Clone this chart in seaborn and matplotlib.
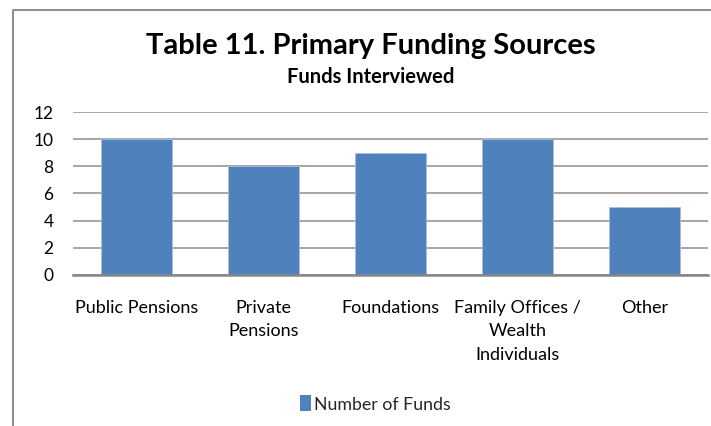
import matplotlib
matplotlib.use("Agg")
import matplotlib.pyplot as plt
from matplotlib.lines import Line2D
from matplotlib.patches import Patch
import pandas as pd
import seaborn as sns

# Chart data
categories = ["Public Pensions", "Private\nPensions", "Foundations",
              "Family Offices /\nWealth\nIndividuals", "Other"]
num_funds = [10, 8, 9, 10, 5]
series_name = "Number of Funds"
y_ticks = [0, 2, 4, 6, 8, 10, 12]

title = "Table 11. Primary Funding Sources"
subtitle = "Funds Interviewed"

BAR = "#4F81BD"
GRID = "#A6A6A6"
AXIS = "#868686"
FRAME = "#8C8C8C"

sns.set_theme(style="white")
plt.rcParams["font.family"] = ["Lato", "DejaVu Sans"]

df = pd.DataFrame({"source": categories, "funds": num_funds})

fig = plt.figure(figsize=(7.11, 4.26), dpi=100)
ax = fig.add_axes([0.1027, 0.3552, 0.8931, 0.3812])

sns.barplot(data=df, x="source", y="funds", color=BAR, saturation=1,
            width=0.56, edgecolor="#A7BFDE", linewidth=0.6, ax=ax, zorder=3)

ax.set_ylim(0, 12)
ax.set_yticks(y_ticks)
ax.set_xlim(-0.5, len(categories) - 0.5)
ax.set_xlabel("")
ax.set_ylabel("")

ax.yaxis.grid(True, color=GRID, linewidth=1.4, zorder=0)
ax.xaxis.grid(False)
for side in ["left", "right", "top"]:
    ax.spines[side].set_visible(False)
ax.spines["bottom"].set_color(AXIS)
ax.spines["bottom"].set_linewidth(1.8)
ax.spines["bottom"].set_zorder(4)

ax.tick_params(axis="y", length=0, pad=14, labelsize=12.5, labelcolor="black")
ax.tick_params(axis="x", length=0, pad=18, labelsize=13, labelcolor="black")
for lbl in ax.get_xticklabels():
    lbl.set_linespacing(1.6)

fig.text(0.522, 1 - 54 / 426, title, ha="center", va="baseline",
         fontsize=21, fontweight="bold", color="black")
fig.text(0.522, 1 - 83 / 426, subtitle, ha="center", va="baseline",
         fontsize=14.5, fontweight="bold", color="black")

handle = Patch(facecolor=BAR, edgecolor="none")
fig.legend([handle], [series_name], loc="center",
           bbox_to_anchor=(0.528, 22 / 426), frameon=False, fontsize=12.8,
           handlelength=0.65, handleheight=1.0, handletextpad=0.15,
           borderpad=0)

# Chart-area frame (top and left edges fall inside the canvas)
x0, y0 = 13 / 711, 1 - 9.5 / 426
fig.add_artist(Line2D([x0, x0, 1.0], [0.0, y0, y0], transform=fig.transFigure,
                      color=FRAME, linewidth=1.4))

fig.savefig("out.png", dpi=100, facecolor="white")
